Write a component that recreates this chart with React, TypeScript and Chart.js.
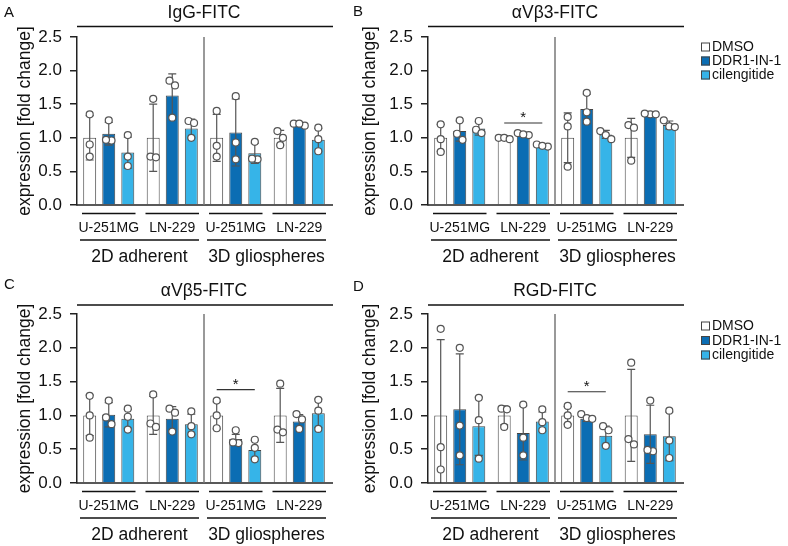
import React, { useEffect, useRef } from 'react';
import { Chart, registerables } from 'chart.js';

Chart.register(...registerables);

const FONT = "'Liberation Sans', Arial, Helvetica, sans-serif";

// ---------- shared categories / labels ----------
const CELL_LINES = ['U-251MG', 'LN-229', 'U-251MG', 'LN-229'];
const CULTURES = ['2D adherent', '3D gliospheres'];
const TREATMENTS = ['DMSO', 'DDR1-IN-1', 'cilengitide'];
const TREATMENT_COLORS = ['#ffffff', '#0b6db3', '#36b4e8'];
const Y_TICKS = [0, 0.5, 1.0, 1.5, 2.0, 2.5];
const Y_TITLE = 'expression [fold change]';
const PANEL_TITLES = ['IgG-FITC', 'αVβ3-FITC', 'αVβ5-FITC', 'RGD-FITC'];
const PANEL_LETTERS = ['A', 'B', 'C', 'D'];

// ---------- Panel A: IgG-FITC ----------
const A_MEAN = [
  [1.0, 1.0, 1.0, 1.0],
  [1.06, 1.63, 1.08, 1.19],
  [0.78, 1.14, 0.77, 0.97],
];
const A_SD = [
  [0.33, 0.5, 0.35, 0.11],
  [0.17, 0.32, 0.5, 0.02],
  [0.23, 0.14, 0.15, 0.17],
];
const A_POINTS = [
  [[1.35, 0.9, 0.72], [1.58, 0.72, 0.71], [1.4, 0.88, 0.72], [1.1, 1.0, 0.89]],
  [[1.26, 0.96, 0.97], [1.85, 1.78, 1.3], [1.62, 0.93, 0.68], [1.18, 1.21, 1.21]],
  [[1.04, 0.72, 0.58], [1.25, 1.22, 1.0], [0.94, 0.68, 0.69], [1.15, 0.98, 0.8]],
];
const A_STARS: number[][] = [];

// ---------- Panel B: aVb3-FITC ----------
const B_MEAN = [
  [1.0, 1.0, 1.0, 1.0],
  [1.1, 1.05, 1.43, 1.35],
  [1.14, 0.89, 1.05, 1.19],
];
const B_SD = [
  [0.2, 0.03, 0.37, 0.29],
  [0.15, 0.03, 0.22, 0.01],
  [0.1, 0.02, 0.06, 0.06],
];
const B_POINTS = [
  [[1.2, 0.98, 0.79], [1.0, 1.0, 0.98], [1.31, 1.17, 0.57], [1.19, 1.15, 0.66]],
  [[1.26, 1.06, 0.97], [1.07, 1.04, 1.05], [1.67, 1.38, 1.24], [1.35, 1.36, 1.35]],
  [[1.25, 1.12, 1.07], [0.87, 0.9, 0.88], [1.1, 1.04, 0.98], [1.26, 1.17, 1.16]],
];
// [category, from treatment, to treatment, line value]
const B_STARS = [[1, 0, 2, 1.22]];

// ---------- Panel C: aVb5-FITC ----------
const C_MEAN = [
  [1.0, 1.0, 1.0, 1.0],
  [1.01, 0.95, 0.65, 0.91],
  [0.95, 0.87, 0.49, 1.03],
];
const C_SD = [
  [0.3, 0.28, 0.2, 0.4],
  [0.18, 0.18, 0.07, 0.1],
  [0.14, 0.15, 0.14, 0.21],
];
const C_POINTS = [
  [[1.29, 1.0, 0.67], [1.31, 0.88, 0.83], [1.22, 1.0, 0.81], [1.47, 0.79, 0.75]],
  [[1.22, 0.97, 0.87], [1.1, 1.04, 0.76], [0.78, 0.59, 0.6], [1.02, 0.94, 0.8]],
  [[1.1, 0.98, 0.79], [1.06, 0.84, 0.72], [0.64, 0.52, 0.35], [1.23, 1.07, 0.8]],
];
const C_STARS = [[2, 0, 2, 1.38]];

// ---------- Panel D: RGD-FITC ----------
const D_MEAN = [
  [1.0, 1.0, 1.0, 1.0],
  [1.09, 0.74, 0.95, 0.72],
  [0.84, 0.91, 0.7, 0.69],
];
const D_SD = [
  [1.12, 0.14, 0.13, 0.68],
  [0.82, 0.4, 0.04, 0.43],
  [0.43, 0.14, 0.14, 0.36],
];
const D_POINTS = [
  [[2.28, 0.53, 0.2], [1.1, 1.09, 0.83], [1.14, 1.0, 0.86], [1.78, 0.65, 0.57]],
  [[2.0, 0.85, 0.41], [1.16, 0.67, 0.41], [1.02, 0.96, 0.95], [1.22, 0.47, 0.49]],
  [[1.26, 0.93, 0.36], [1.09, 0.9, 0.78], [0.84, 0.78, 0.55], [1.07, 0.63, 0.37]],
];
const D_STARS = [[2, 0, 2, 1.35]];

const PANEL_DATA = [
  { mean: A_MEAN, sd: A_SD, pts: A_POINTS, stars: A_STARS },
  { mean: B_MEAN, sd: B_SD, pts: B_POINTS, stars: B_STARS },
  { mean: C_MEAN, sd: C_SD, pts: C_POINTS, stars: C_STARS },
  { mean: D_MEAN, sd: D_SD, pts: D_POINTS, stars: D_STARS },
];

// ---------- layout (page pixel positions) ----------
const LAYOUT = [
  { left: 0, top: 0, width: 345, height: 272, plotLeft: 77, plotRight: 331, plotTop: 37, plotBottom: 205, titleLine: 26.5, letterX: 4, letterY: 17, legend: null as number[] | null },
  { left: 345, top: 0, width: 443, height: 272, plotLeft: 428, plotRight: 682, plotTop: 37, plotBottom: 205, titleLine: 26.5, letterX: 353, letterY: 16, legend: [47, 61, 75] },
  { left: 0, top: 272, width: 345, height: 274, plotLeft: 77, plotRight: 331, plotTop: 314, plotBottom: 483, titleLine: 305, letterX: 4, letterY: 289, legend: null as number[] | null },
  { left: 345, top: 272, width: 443, height: 274, plotLeft: 428, plotRight: 682, plotTop: 314, plotBottom: 483, titleLine: 305, letterX: 353, letterY: 291, legend: [326, 340.5, 355] },
];

function swarmOffsets(pys: number[], r: number, step: number): number[] {
  const idx = pys.map((_, i) => i).sort((a, b) => pys[a] - pys[b]);
  const offs = new Array(pys.length).fill(0);
  let cluster: number[] = [idx[0]];
  const flush = () => {
    const n = cluster.length;
    cluster.forEach((k, j) => {
      offs[k] = (j - (n - 1) / 2) * step;
    });
  };
  for (let m = 1; m < idx.length; m++) {
    const last = cluster[cluster.length - 1];
    if (Math.abs(pys[idx[m]] - pys[last]) < 2 * r) cluster.push(idx[m]);
    else {
      flush();
      cluster = [idx[m]];
    }
  }
  flush();
  return offs;
}

function Panel({ idx }: { idx: number }) {
  const ref = useRef<HTMLCanvasElement>(null);
  const L = LAYOUT[idx];

  useEffect(() => {
    const D = PANEL_DATA[idx];
    const canvas = ref.current!;
    const R = 3.5;

    const plugin = {
      id: 'panelExtras' + idx,
      afterDatasetsDraw(chart: any) {
        const ctx = chart.ctx as CanvasRenderingContext2D;
        const ys = chart.scales.y;
        ctx.save();
        // error bars
        for (let d = 0; d < TREATMENTS.length; d++) {
          const meta = chart.getDatasetMeta(d);
          meta.data.forEach((bar: any, c: number) => {
            const x = bar.x;
            const m = D.mean[d][c];
            const s = D.sd[d][c];
            const yTop = ys.getPixelForValue(m + s);
            const yBot = ys.getPixelForValue(Math.max(m - s, 0));
            ctx.strokeStyle = '#555';
            ctx.lineWidth = 1.2;
            ctx.beginPath();
            ctx.moveTo(x, yTop);
            ctx.lineTo(x, yBot);
            ctx.moveTo(x - 4, yTop);
            ctx.lineTo(x + 4, yTop);
            if (m - s > 0) {
              ctx.moveTo(x - 4, yBot);
              ctx.lineTo(x + 4, yBot);
            }
            ctx.stroke();
          });
        }
        // points
        for (let d = 0; d < TREATMENTS.length; d++) {
          const meta = chart.getDatasetMeta(d);
          meta.data.forEach((bar: any, c: number) => {
            const x = bar.x;
            const pys = D.pts[d][c].map((v: number) => ys.getPixelForValue(v));
            const offs = swarmOffsets(pys, R, 5.5);
            pys.forEach((py: number, k: number) => {
              ctx.beginPath();
              ctx.arc(x + offs[k], py, R, 0, Math.PI * 2);
              ctx.fillStyle = '#ffffff';
              ctx.fill();
              ctx.strokeStyle = '#555';
              ctx.lineWidth = 1.2;
              ctx.stroke();
            });
          });
        }
        // significance
        D.stars.forEach(([c, d1, d2, v]) => {
          const x1 = chart.getDatasetMeta(d1).data[c].x;
          const x2 = chart.getDatasetMeta(d2).data[c].x;
          const py = ys.getPixelForValue(v);
          ctx.strokeStyle = '#333';
          ctx.lineWidth = 1.2;
          ctx.beginPath();
          ctx.moveTo(x1, py);
          ctx.lineTo(x2, py);
          ctx.stroke();
          ctx.fillStyle = '#111';
          ctx.font = `15px ${FONT}`;
          ctx.textAlign = 'center';
          ctx.textBaseline = 'alphabetic';
          ctx.fillText('*', (x1 + x2) / 2, py - 1);
        });
        ctx.restore();
      },
      afterDraw(chart: any) {
        const ctx = chart.ctx as CanvasRenderingContext2D;
        const { left, right, top, bottom } = chart.chartArea;
        const xs = chart.scales.x;
        ctx.save();
        // bottom axis
        ctx.strokeStyle = '#222';
        ctx.lineWidth = 1.5;
        ctx.beginPath();
        ctx.moveTo(left - 0.75, bottom);
        ctx.lineTo(right + 2, bottom);
        ctx.stroke();
        // separator between 2D and 3D
        const sepX = (xs.getPixelForValue(1) + xs.getPixelForValue(2)) / 2;
        ctx.strokeStyle = '#777';
        ctx.lineWidth = 1.5;
        ctx.beginPath();
        ctx.moveTo(sepX, top);
        ctx.lineTo(sepX, bottom);
        ctx.stroke();
        // title + underline
        const tl = L.titleLine - L.top;
        ctx.strokeStyle = '#111';
        ctx.lineWidth = 1.5;
        ctx.beginPath();
        ctx.moveTo(left, tl);
        ctx.lineTo(right + 2, tl);
        ctx.stroke();
        ctx.fillStyle = '#111';
        ctx.font = `17.5px ${FONT}`;
        ctx.textAlign = 'center';
        ctx.textBaseline = 'alphabetic';
        ctx.fillText(PANEL_TITLES[idx], (left + right) / 2, tl - 9);
        // panel letter
        ctx.font = `15px ${FONT}`;
        ctx.textAlign = 'left';
        ctx.fillText(PANEL_LETTERS[idx], L.letterX - L.left, L.letterY - L.top);
        // category labels
        const hw = (xs.getPixelForValue(1) - xs.getPixelForValue(0)) / 2;
        CELL_LINES.forEach((name, c) => {
          const cx = xs.getPixelForValue(c);
          ctx.strokeStyle = '#111';
          ctx.lineWidth = 1.5;
          ctx.beginPath();
          ctx.moveTo(cx - hw + 5, bottom + 8.5);
          ctx.lineTo(cx + hw - 5, bottom + 8.5);
          ctx.stroke();
          ctx.font = `14px ${FONT}`;
          ctx.textAlign = 'center';
          ctx.fillText(name, cx, bottom + 27);
        });
        CULTURES.forEach((name, g) => {
          const xl = xs.getPixelForValue(2 * g) - hw + 3;
          const xr = xs.getPixelForValue(2 * g + 1) + hw - 5;
          ctx.beginPath();
          ctx.moveTo(xl, bottom + 35);
          ctx.lineTo(xr, bottom + 35);
          ctx.stroke();
          ctx.font = `17.5px ${FONT}`;
          ctx.textAlign = 'center';
          ctx.fillText(name, (xl + xr) / 2, bottom + 57);
        });
        // legend
        if (L.legend) {
          const sx = right + 19;
          L.legend.forEach((ly, d) => {
            const y = ly - L.top;
            ctx.fillStyle = TREATMENT_COLORS[d];
            ctx.fillRect(sx, y - 4.5, 9, 9);
            ctx.strokeStyle = '#444';
            ctx.lineWidth = 1;
            ctx.strokeRect(sx + 0.5, y - 4, 8, 8);
            ctx.fillStyle = '#111';
            ctx.font = `14px ${FONT}`;
            ctx.textAlign = 'left';
            ctx.textBaseline = 'middle';
            ctx.fillText(TREATMENTS[d], sx + 11, y + 0.5);
          });
        }
        ctx.restore();
      },
    };

    const chart = new Chart(canvas, {
      type: 'bar',
      data: {
        labels: CELL_LINES,
        datasets: TREATMENTS.map((t, d) => ({
          label: t,
          data: D.mean[d],
          backgroundColor: TREATMENT_COLORS[d],
          borderColor: '#444',
          borderWidth: 1,
          categoryPercentage: 0.9,
          barPercentage: 0.68,
        })),
      },
      options: {
        responsive: false,
        maintainAspectRatio: false,
        animation: false,
        events: [],
        layout: {
          padding: {
            left: 0,
            top: L.plotTop - L.top,
            right: L.width - (L.plotRight - L.left),
            bottom: L.height - (L.plotBottom - L.top),
          },
        },
        plugins: {
          legend: { display: false },
          tooltip: { enabled: false },
          title: { display: false },
        },
        scales: {
          x: { type: 'category', display: false, offset: true, grid: { display: false } },
          y: {
            min: Y_TICKS[0],
            max: Y_TICKS[Y_TICKS.length - 1],
            afterFit: (s: any) => {
              s.width = L.plotLeft - L.left;
            },
            afterBuildTicks: (s: any) => {
              s.ticks = Y_TICKS.map((v) => ({ value: v }));
            },
            ticks: {
              callback: (v: any) => Number(v).toFixed(1),
              font: { size: 17, family: FONT },
              color: '#111',
              padding: 8,
            },
            grid: {
              display: true,
              drawOnChartArea: false,
              drawTicks: true,
              tickLength: 7,
              color: '#222',
              lineWidth: 1.5,
            },
            border: { display: true, color: '#222', width: 1.5 },
            title: {
              display: true,
              text: Y_TITLE,
              font: { size: 17.5, family: FONT },
              color: '#111',
              padding: { top: 14.5, bottom: 0 },
            },
          },
        },
      } as any,
      plugins: [plugin],
    });
    return () => chart.destroy();
  }, [idx]);

  return (
    <canvas
      ref={ref}
      width={L.width}
      height={L.height}
      style={{ position: 'absolute', left: L.left, top: L.top, width: L.width, height: L.height }}
    />
  );
}

export default function App() {
  return (
    <div
      style={{
        position: 'absolute',
        left: 0,
        top: 0,
        width: 788,
        height: 546,
        background: '#ffffff',
        overflow: 'hidden',
      }}
    >
      {[0, 1, 2, 3].map((i) => (
        <Panel key={i} idx={i} />
      ))}
    </div>
  );
}
